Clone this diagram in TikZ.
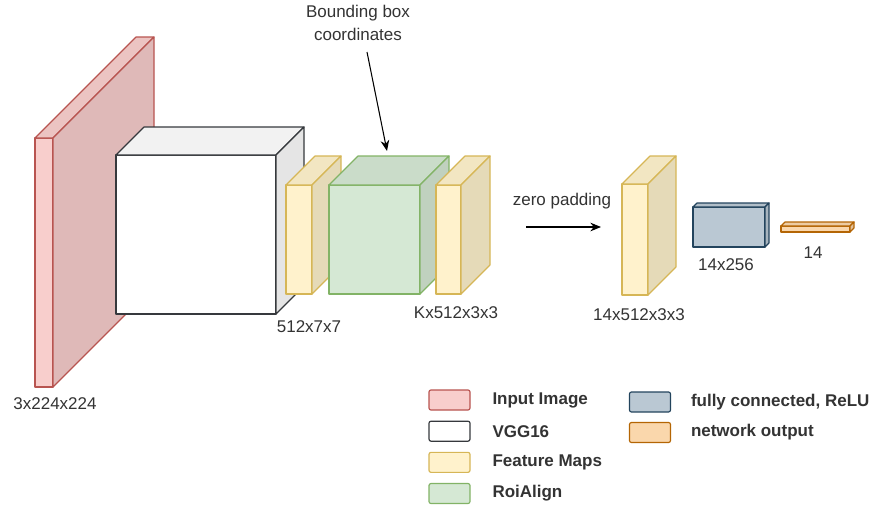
\documentclass[tikz,border=0pt]{standalone}
\usepackage{fontspec}
\setmainfont{Liberation Sans}
\usetikzlibrary{arrows.meta,positioning}
\definecolor{inRed}{HTML}{F8CECC}
\definecolor{inRedLine}{HTML}{B85450}
\definecolor{vggWhite}{HTML}{FFFFFF}
\definecolor{vggLine}{HTML}{36393D}
\definecolor{fmYellow}{HTML}{FFF2CC}
\definecolor{fmYellowLine}{HTML}{D6B656}
\definecolor{roiGreen}{HTML}{D5E8D4}
\definecolor{roiGreenLine}{HTML}{82B366}
\definecolor{fcBlue}{HTML}{BAC8D3}
\definecolor{fcBlueLine}{HTML}{23445D}
\definecolor{outOrange}{HTML}{FAD7AC}
\definecolor{outOrangeLine}{HTML}{B46504}
% cuboid: x, y (top left of front face), width, height, depth, fill, line
\newcommand{\cuboid}[7]{%
  \filldraw[fill=#6, draw=#7] (#1,#2) rectangle ++(#3,#4);
  \filldraw[fill=#6!95!black, draw=#7] (#1,#2) -- ++(#5,-#5) -- ++(#3,0) -- ++(-#5,#5) -- cycle;
  \filldraw[fill=#6!90!black, draw=#7] (#1+#3,#2) -- ++(#5,-#5) -- ++(0,#4) -- ++(-#5,#5) -- cycle;
}

\begin{document}
\begin{tikzpicture}[x=0.3mm, y=-0.3mm, line width=1pt, line join=round,
    font=\fontsize{14.5}{17}\selectfont, text=black!80,
    lbl/.style={inner sep=1pt},
    arr/.style={-{Stealth[length=3.2mm, width=2.6mm]}, line width=0.9pt, black},
    swatch/.style={draw, minimum width=12.3mm, minimum height=6mm, rounded corners=0.6mm, inner sep=0},
    keytext/.style={font=\fontsize{14.5}{17}\selectfont\bfseries, inner sep=0}]
    \useasboundingbox (0,0) rectangle (872,505);

    % Layers
    \cuboid{35}{138}{18}{249}{101}{inRed}{inRedLine}
    \cuboid{116}{155}{160}{159}{28}{vggWhite}{vggLine}
    \cuboid{286}{185}{26}{109}{29}{fmYellow}{fmYellowLine}
    \cuboid{329}{185}{91}{109}{29}{roiGreen}{roiGreenLine}
    \cuboid{436}{185}{25}{109}{29}{fmYellow}{fmYellowLine}
    \cuboid{622}{184}{26}{111}{28}{fmYellow}{fmYellowLine}
    \cuboid{693}{207}{72}{40}{4}{fcBlue}{fcBlueLine}
    \cuboid{781}{226}{69}{6}{4}{outOrange}{outOrangeLine}

    % Sizes
    \node[lbl] (inSize) at (55,404) {3x224x224};
    \node[lbl] (vggSize) at (309,327) {512x7x7};
    \node[lbl] (roiSize) at (456,313) {Kx512x3x3};
    \node[lbl] (padSize) at (639,315) {14x512x3x3};
    \node[lbl] (fcSize) at (726,265) {14x256};
    \node[lbl] (outSize) at (813,253) {14};

    % Arrows
    \node[lbl, align=center, font=\fontsize{14.5}{19}\selectfont] (bbox) at (358,23) {Bounding box\\coordinates};
    \coordinate (bboxTail) at (367,52);
    \coordinate (roiTop) at (387,151);
    \draw[arr] (bboxTail) -- (roiTop);
    \node[lbl] (padText) at (562,201) {zero padding};
    \coordinate (padTail) at (526,227);
    \coordinate (padHead) at (601,227);
    \draw[arr] (padTail) -- (padHead);

    % Legend
    \node[swatch, fill=inRed, draw=inRedLine] (sw1) at (449.5,400) {};
    \node[swatch, fill=vggWhite, draw=vggLine, below=3mm of sw1] (sw2) {};
    \node[swatch, fill=fmYellow, draw=fmYellowLine, below=3mm of sw2] (sw3) {};
    \node[swatch, fill=roiGreen, draw=roiGreenLine, below=3mm of sw3] (sw4) {};
    \node[swatch, fill=fcBlue, draw=fcBlueLine] (sw5) at (650,402) {};
    \node[swatch, fill=outOrange, draw=outOrangeLine, below=2.8mm of sw5] (sw6) {};
    \node[keytext, right=6.4mm of sw1] (key1) {Input Image};
    \node[keytext, right=6.4mm of sw2] (key2) {VGG16};
    \node[keytext, right=6.4mm of sw3] (key3) {Feature Maps};
    \node[keytext, right=6.4mm of sw4] (key4) {RoiAlign};
    \node[keytext, right=5.8mm of sw5] (key5) {fully connected, ReLU};
    \node[keytext, right=5.8mm of sw6] (key6) {network output};
\end{tikzpicture}
\end{document}
